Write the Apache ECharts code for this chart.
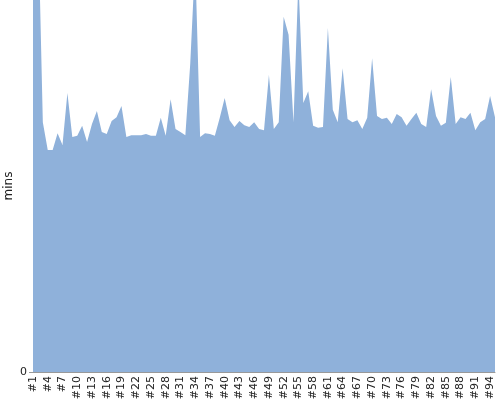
<!DOCTYPE html>
<html>
<head>
<meta charset="utf-8">
<script src="https://cdn.jsdelivr.net/npm/echarts@6/dist/echarts.min.js"></script>
<style>html,body{margin:0;padding:0;background:#fff}#c{width:500px;height:400px}</style>
</head>
<body>
<div id="c"></div>
<script>
var categories = [];
for (var i = 1; i <= 95; i++) categories.push('#' + i);
var minsValues = [
  80.0, 74.7, 40.3, 35.8, 35.8, 38.5, 36.6, 45.0, 37.9, 38.1,
  39.7, 37.1, 40.0, 42.1, 38.7, 38.4, 40.5, 41.1, 42.9, 37.9,
  38.2, 38.2, 38.2, 38.4, 38.1, 38.1, 41.0, 38.1, 44.0, 39.2,
  38.7, 38.2, 49.8, 66.5, 37.9, 38.5, 38.4, 38.1, 41.0, 44.2,
  40.6, 39.5, 40.5, 39.8, 39.5, 40.3, 39.2, 39.0, 47.9, 39.2,
  40.3, 57.3, 54.4, 40.3, 63.2, 43.4, 45.3, 39.7, 39.4, 39.5,
  55.5, 42.3, 40.3, 49.0, 40.8, 40.3, 40.6, 39.2, 41.0, 50.6,
  41.3, 40.8, 41.0, 40.0, 41.6, 41.1, 39.7, 40.8, 41.8, 40.0,
  39.5, 45.6, 41.3, 39.7, 40.2, 47.6, 40.0, 41.1, 40.8, 41.8,
  39.0, 40.3, 40.8, 44.5, 41.1
];
var yTickLabels = ['0'];

var chart = echarts.init(document.getElementById('c'), null, {renderer: 'canvas'});
chart.setOption({
  animation: false,
  grid: {left: 33, right: 5, top: 0, bottom: 28, containLabel: false, outerBoundsMode: 'none'},
  xAxis: {
    type: 'category',
    data: categories,
    boundaryGap: false,
    axisLine: {show: true, lineStyle: {color: '#999'}},
    axisTick: {show: false},
    axisLabel: {
      interval: 2,
      rotate: 90,
      fontFamily: 'DejaVu Sans',
      fontSize: 11,
      color: '#222',
      margin: 4,
      hideOverlap: false
    },
    splitLine: {show: false}
  },
  yAxis: {
    type: 'value',
    min: 0,
    max: 60,
    interval: 60,
    name: 'mins',
    nameLocation: 'middle',
    nameGap: 18,
    nameMoveOverlap: false,
    nameTextStyle: {fontFamily: 'DejaVu Sans', fontSize: 12, color: '#222'},
    axisLine: {show: true, lineStyle: {color: '#999'}},
    axisTick: {show: true, length: 4, lineStyle: {color: '#999'}},
    axisLabel: {
      fontFamily: 'DejaVu Sans',
      fontSize: 11,
      color: '#222',
      margin: 6,
      showMaxLabel: false,
      formatter: function (v) { return v === 0 ? yTickLabels[0] : ''; }
    },
    splitLine: {show: false}
  },
  series: [{
    type: 'line',
    data: minsValues,
    symbol: 'none',
    clip: true,
    lineStyle: {width: 0, color: '#8fb1da'},
    itemStyle: {color: '#8fb1da'},
    areaStyle: {color: '#8fb1da', opacity: 1}
  }]
});
</script>
</body>
</html>
